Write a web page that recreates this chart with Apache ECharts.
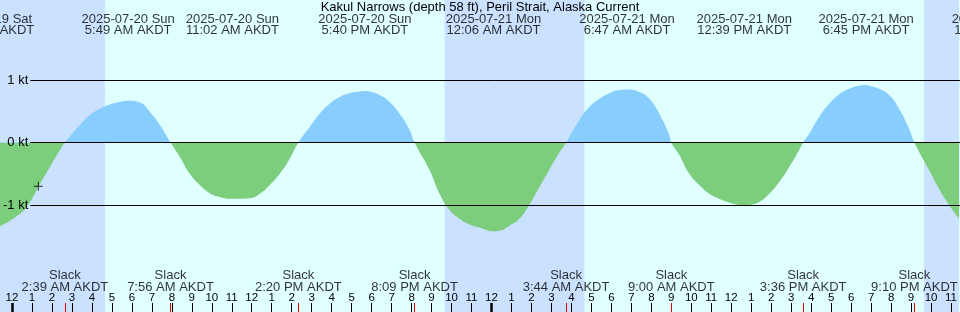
<!DOCTYPE html>
<html><head><meta charset="utf-8">
<script src="https://cdn.jsdelivr.net/npm/echarts@6/dist/echarts.min.js"></script>
<style>html,body{margin:0;padding:0;background:#E0FFFF;overflow:hidden}#c{width:960px;height:312px}</style>
</head><body><div id="c"></div>
<script>
// ---------------- data ----------------
const titleText = "Kakul Narrows (depth 58 ft), Peril Strait, Alaska Current";
const viewStart = "2025-07-19 23:24";
const viewEnd = "2025-07-21 23:24";

const curveTimes = [
  "2025-07-19 23:24","2025-07-20 00:24","2025-07-20 00:54","2025-07-20 01:24","2025-07-20 01:54","2025-07-20 02:24","2025-07-20 02:39",
  "2025-07-20 03:24","2025-07-20 03:54","2025-07-20 04:24","2025-07-20 04:54","2025-07-20 05:24","2025-07-20 05:49","2025-07-20 06:24",
  "2025-07-20 06:54","2025-07-20 07:24","2025-07-20 07:56","2025-07-20 08:24","2025-07-20 08:54","2025-07-20 09:24","2025-07-20 09:54",
  "2025-07-20 10:24","2025-07-20 11:02","2025-07-20 11:54","2025-07-20 12:24","2025-07-20 12:54","2025-07-20 13:24","2025-07-20 13:54",
  "2025-07-20 14:20","2025-07-20 14:54","2025-07-20 15:24","2025-07-20 15:54","2025-07-20 16:24","2025-07-20 16:54","2025-07-20 17:24",
  "2025-07-20 17:40","2025-07-20 17:54","2025-07-20 18:24","2025-07-20 18:54","2025-07-20 19:24","2025-07-20 19:54","2025-07-20 20:09",
  "2025-07-20 20:54","2025-07-20 21:24","2025-07-20 21:54","2025-07-20 22:24","2025-07-20 22:54","2025-07-20 23:24","2025-07-21 00:06",
  "2025-07-21 00:24","2025-07-21 00:54","2025-07-21 01:24","2025-07-21 01:54","2025-07-21 02:24","2025-07-21 02:54","2025-07-21 03:24",
  "2025-07-21 03:44","2025-07-21 04:24","2025-07-21 04:54","2025-07-21 05:24","2025-07-21 05:54","2025-07-21 06:24","2025-07-21 06:47",
  "2025-07-21 07:24","2025-07-21 07:54","2025-07-21 08:24","2025-07-21 08:54","2025-07-21 09:00","2025-07-21 09:24","2025-07-21 09:54",
  "2025-07-21 10:24","2025-07-21 10:54","2025-07-21 11:24","2025-07-21 11:54","2025-07-21 12:24","2025-07-21 12:39","2025-07-21 12:54",
  "2025-07-21 13:24","2025-07-21 13:54","2025-07-21 14:24","2025-07-21 14:54","2025-07-21 15:24","2025-07-21 15:36","2025-07-21 15:54",
  "2025-07-21 16:24","2025-07-21 16:54","2025-07-21 17:24","2025-07-21 17:54","2025-07-21 18:24","2025-07-21 18:45","2025-07-21 18:54",
  "2025-07-21 19:24","2025-07-21 19:54","2025-07-21 20:24","2025-07-21 20:54","2025-07-21 21:10","2025-07-21 21:54","2025-07-21 22:24",
  "2025-07-21 22:54","2025-07-21 23:24"
];
const curveKt = [
  -1.34,-1.14,-0.95,-0.66,-0.39,-0.12,0,
  0.28,0.44,0.54,0.61,0.65,0.67,0.64,
  0.49,0.28,0,-0.23,-0.50,-0.68,-0.81,
  -0.87,-0.90,-0.89,-0.82,-0.68,-0.50,-0.26,
  0,0.25,0.46,0.62,0.73,0.79,0.815,
  0.825,0.815,0.76,0.65,0.46,0.20,0,
  -0.44,-0.82,-1.08,-1.22,-1.31,-1.36,-1.42,
  -1.41,-1.33,-1.22,-0.99,-0.71,-0.43,-0.16,
  0,0.36,0.57,0.70,0.79,0.84,0.85,
  0.81,0.70,0.46,0.12,0,-0.20,-0.50,
  -0.68,-0.82,-0.90,-0.96,-1.00,-1.01,-1.00,
  -0.95,-0.82,-0.63,-0.39,-0.12,0,0.14,
  0.41,0.62,0.77,0.86,0.91,0.92,0.91,
  0.86,0.76,0.54,0.22,0,-0.44,-0.74,
  -1.00,-1.22
];

// max flood / max ebb events (top labels)
const maxTimes = ["2025-07-19 22:46","2025-07-20 05:49","2025-07-20 11:02","2025-07-20 17:40","2025-07-21 00:06","2025-07-21 06:47","2025-07-21 12:39","2025-07-21 18:45","2025-07-22 01:20"];
const maxDays  = ["2025-07-19 Sat","2025-07-20 Sun","2025-07-20 Sun","2025-07-20 Sun","2025-07-21 Mon","2025-07-21 Mon","2025-07-21 Mon","2025-07-21 Mon","2025-07-22 Tue"];
const maxClock = ["10:46 PM AKDT","5:49 AM AKDT","11:02 AM AKDT","5:40 PM AKDT","12:06 AM AKDT","6:47 AM AKDT","12:39 PM AKDT","6:45 PM AKDT","1:20 AM AKDT"];

// slack events (bottom labels + red ticks)
const slackTimes = ["2025-07-20 02:39","2025-07-20 07:56","2025-07-20 14:20","2025-07-20 20:09","2025-07-21 03:44","2025-07-21 09:00","2025-07-21 15:36","2025-07-21 21:10"];
const slackClock = ["2:39 AM AKDT","7:56 AM AKDT","2:20 PM AKDT","8:09 PM AKDT","3:44 AM AKDT","9:00 AM AKDT","3:36 PM AKDT","9:10 PM AKDT"];

// night periods [sunset, sunrise]
const nightStart = ["2025-07-19 21:39","2025-07-20 21:39","2025-07-21 21:39"];
const nightEnd   = ["2025-07-20 04:39","2025-07-21 04:39","2025-07-22 04:39"];

// hour tick labels, starting at midnight 2025-07-20
const hourLabels = ["12","1","2","3","4","5","6","7","8","9","10","11","12","1","2","3","4","5","6","7","8","9","10","11",
                    "12","1","2","3","4","5","6","7","8","9","10","11","12","1","2","3","4","5","6","7","8","9","10","11"];
const midnightTicks = ["2025-07-20 00:00","2025-07-21 00:00"];
const ktTicks = [1, 0, -1];
const nowMark = ["2025-07-20 01:19", -0.70];

// ---------------- helpers ----------------
function toH(s){
  const m = s.match(/(\d+)-(\d+)-(\d+) (\d+):(\d+)/);
  return (Date.UTC(+m[1], +m[2]-1, +m[3], +m[4], +m[5]) - Date.UTC(2025,6,20,0,0)) / 3600000;
}
const xMin = toH(viewStart), xMax = toH(viewEnd);
const H = 312, ZERO_PX = 142.5, PX_PER_KT = 62.5;
const yMax = ZERO_PX / PX_PER_KT, yMin = -(H - ZERO_PX) / PX_PER_KT;
const pxToKt = p => (ZERO_PX - p) / PX_PER_KT;

const DAY = '#E0FFFF', NIGHT = '#CAE1FF', FLOOD = '#87CEFF', EBB = '#7CCD7C';
const FONT = 'Liberation Sans', TXT = '#000';

const curveData = curveTimes.map((t,i)=>[toH(t), curveKt[i]]);
const nightAreas = nightStart.map((s,i)=>[{xAxis: Math.max(toH(s), xMin)}, {xAxis: Math.min(toH(nightEnd[i]), xMax)}]);
const topY = pxToKt(24.8), botY = pxToKt(281.3);

const chart = echarts.init(document.getElementById('c'), null, {renderer:'canvas'});
chart.setOption({
  animation: false,
  backgroundColor: DAY,
  title: {text: titleText, left: 'center', top: 1, padding: 0, z: 10,
    textStyle: {fontFamily: FONT, fontSize: 13, fontWeight: 'normal', color: TXT, lineHeight: 12}},
  grid: [
    {left: 0, right: 0, top: 0, bottom: 0},
    {left: 30, right: 0, top: 0, bottom: 0}
  ],
  xAxis: [
    {type:'value', gridIndex:0, min:xMin, max:xMax, position:'bottom', z:10,
     axisLine:{show:false, onZero:false}, splitLine:{show:false},
     axisTick:{show:true, inside:true, length:9, customValues: hourLabels.map((_,i)=>i), lineStyle:{color:'#000', width:1}},
     axisLabel:{show:true, inside:true, margin:8, customValues: hourLabels.map((_,i)=>i),
       formatter: v => hourLabels[Math.round(v)], fontFamily: FONT, fontSize: 11.5, color: TXT}},
    {type:'value', gridIndex:0, min:xMin, max:xMax, position:'bottom', z:10,
     axisLine:{show:false, onZero:false}, splitLine:{show:false}, axisLabel:{show:false},
     axisTick:{show:true, inside:true, length:9, customValues: midnightTicks.map(toH), lineStyle:{color:'#000', width:2.5}}},
    {type:'value', gridIndex:0, min:xMin, max:xMax, position:'bottom', z:11,
     axisLine:{show:false, onZero:false}, splitLine:{show:false}, axisLabel:{show:false},
     axisTick:{show:true, inside:true, length:9, customValues: slackTimes.map(toH), lineStyle:{color:'#E00000', width:1}}},
    {type:'value', gridIndex:1, min:0, max:1, show:false}
  ],
  yAxis: [
    {type:'value', gridIndex:0, min:yMin, max:yMax, show:false},
    {type:'value', gridIndex:1, min:yMin, max:yMax, z: 10,
     axisLine:{show:false, onZero:false}, axisTick:{show:false}, splitLine:{show:false},
     axisLabel:{show:true, customValues: ktTicks, margin: 2, formatter: v => v + ' kt',
       fontFamily: FONT, fontSize: 13, color: TXT}}
  ],
  visualMap: {type:'piecewise', show:false, seriesIndex:2, dimension:1,
    pieces:[{gte:-10, lt:0, color:EBB},{gte:0, lte:10, color:FLOOD}]},
  series: [
    {type:'line', xAxisIndex:0, yAxisIndex:0, data:[], z:0, silent:true,
     markArea:{silent:true, itemStyle:{color:NIGHT}, data: nightAreas}},
    {type:'line', xAxisIndex:3, yAxisIndex:1, data:[], z:1, silent:true,
     markLine:{silent:true, symbol:['none','none'], label:{show:false},
       lineStyle:{color:'#000', width:1, type:'solid'}, data: ktTicks.map(v=>({yAxis:v}))}},
    {type:'line', xAxisIndex:0, yAxisIndex:0, data: curveData, z:2, smooth:0.5,
     showSymbol:false, lineStyle:{width:0}, areaStyle:{opacity:1}},
    {type:'scatter', xAxisIndex:0, yAxisIndex:0, z:4, data:[[toH(nowMark[0]), nowMark[1]]],
     symbol:'path://M4,0h1v4h4v1h-4v4h-1v-4h-4v-1h4z', symbolSize:9, itemStyle:{color:'#000'}},
    {type:'scatter', xAxisIndex:0, yAxisIndex:0, z:5, clip:false, symbolSize:0,
     data: maxTimes.map((t,i)=>({value:[toH(t), topY], d:maxDays[i], c:maxClock[i]})),
     label:{show:true, position:'inside', fontFamily:FONT, fontSize:13, lineHeight:11, color:TXT,
       formatter: p => p.data.d + '\n' + p.data.c}},
    {type:'scatter', xAxisIndex:0, yAxisIndex:0, z:5, clip:false, symbolSize:0,
     data: slackTimes.map((t,i)=>({value:[toH(t), botY], c:slackClock[i]})),
     label:{show:true, position:'inside', fontFamily:FONT, fontSize:13, lineHeight:11.5, color:TXT,
       formatter: p => 'Slack\n' + p.data.c}}
  ]
});
</script></body></html>
